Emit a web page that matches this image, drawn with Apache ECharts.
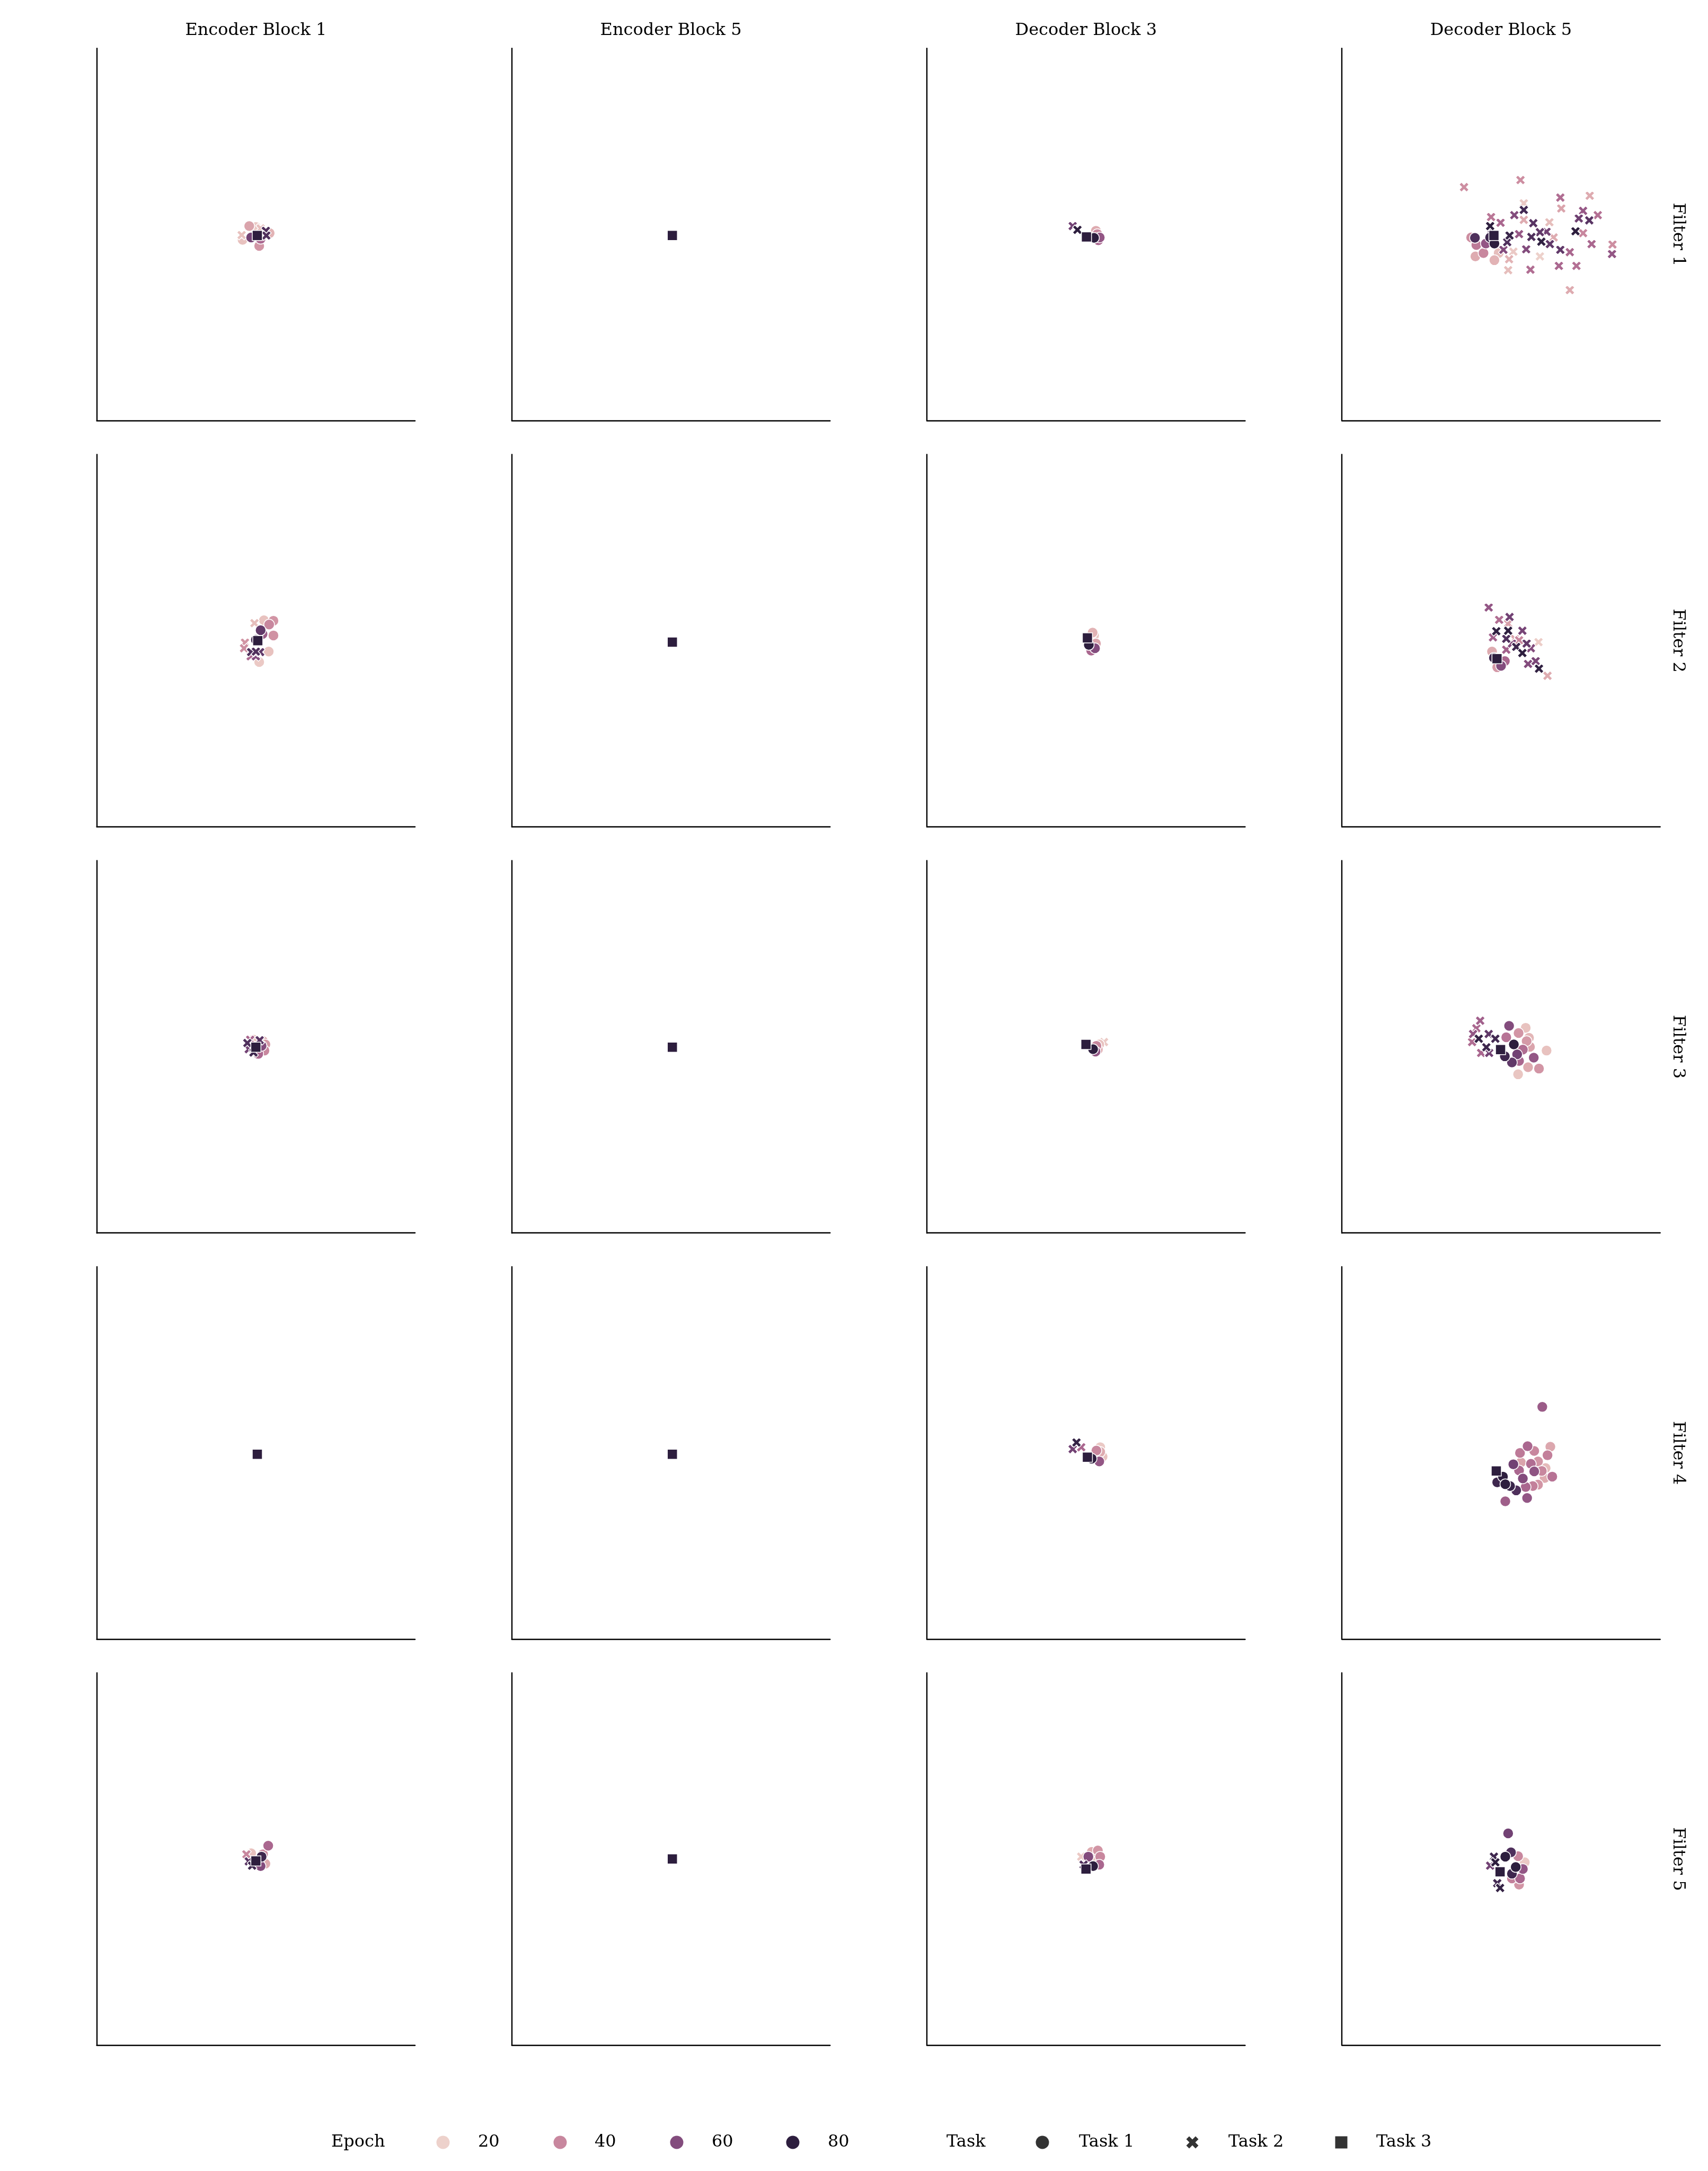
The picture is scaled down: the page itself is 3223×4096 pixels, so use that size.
<!DOCTYPE html>
<html><head><meta charset="utf-8">
<script src="https://cdn.jsdelivr.net/npm/echarts@6/dist/echarts.min.js"></script>
<style>html,body{margin:0;padding:0;background:#fff}#c{width:3223px;height:4096px}</style>
</head><body><div id="c"></div>
<script>
const columns = ['Encoder Block 1', 'Encoder Block 5', 'Decoder Block 3', 'Decoder Block 5'];
const rows = ['Filter 1', 'Filter 2', 'Filter 3', 'Filter 4', 'Filter 5'];
const legendEpochs = [20, 40, 60, 80];
const tasks = ['Task 1', 'Task 2', 'Task 3'];
const epochRange = [20, 80];
const xRange = [-3.355, 3.355];
const yRange = [-3.925, 3.925];

// each point: [x, y, epoch, task]
const enc1_f1 = [[-0.14,0.18,32,1],[-0.28,-0.11,24,1],[0.07,-0.24,36,1],[0.29,0.03,28,1],[0.00,0.16,22,1],[-0.10,-0.06,64,1],[0.10,-0.09,50,1],
  [-0.30,-0.01,24,2],[0.21,0.08,72,2],[0.22,-0.02,72,2],[0.10,0.13,25,2],[0.03,-0.02,80,3]];
const enc1_f2 = [[0.17,0.43,24,1],[0.37,0.42,36,1],[0.28,0.34,40,1],[0.37,0.11,37,1],[0.27,-0.23,24,1],[0.07,-0.45,22,1],[0.10,0.22,68,1],[0.14,0.14,54,1],[0.00,0.02,76,1],
  [-0.03,0.37,25,2],[-0.23,-0.04,36,2],[-0.25,-0.16,38,2],[-0.10,-0.24,72,2],[0.00,-0.23,72,2],[0.09,-0.24,68,2],[-0.11,-0.33,50,2],[0.00,-0.33,60,2],[0.04,0.00,80,3]];
const enc1_f3 = [[0.15,0.12,30,1],[0.18,-0.08,40,1],[0.05,-0.15,50,1],[-0.05,0.15,24,1],[0.12,0.02,60,1],[0.20,0.05,35,1],
  [-0.18,0.08,72,2],[-0.15,-0.05,64,2],[-0.12,0.15,50,2],[-0.05,-0.12,76,2],[0.08,0.14,70,2],[0.00,-0.01,80,3]];
const enc1_f4 = [[0.03,-0.03,80,3]];
const enc1_f5 = [[0.26,0.28,50,1],[0.15,0.10,40,1],[0.20,-0.10,30,1],[0.10,-0.15,60,1],[-0.10,0.12,24,1],[0.12,0.05,76,1],
  [-0.20,0.10,40,2],[-0.15,-0.05,70,2],[-0.08,-0.14,76,2],[0.00,-0.04,80,3]];
const enc5_f1 = [[0.03,-0.02,80,3]];
const enc5_f2 = [[0.03,-0.03,80,3]];
const enc5_f3 = [[0.03,-0.01,80,3]];
const enc5_f4 = [[0.03,-0.03,80,3]];
const enc5_f5 = [[0.03,0.00,80,3]];
const dec3_f1 = [[0.17,-0.07,80,1],[0.24,0.01,40,1],[0.29,-0.06,56,1],[0.26,-0.12,50,1],[0.21,0.08,30,1],
  [-0.18,0.10,80,2],[-0.28,0.18,64,2],[0.01,-0.05,80,3]];
const dec3_f2 = [[0.06,-0.09,80,1],[0.17,0.11,24,1],[0.19,-0.16,60,1],[0.11,-0.21,50,1],[0.21,-0.06,32,1],[0.14,0.17,28,1],[0.03,0.06,80,3]];
const dec3_f3 = [[0.15,-0.05,80,1],[0.22,0.02,40,1],[0.25,-0.06,30,1],[0.20,-0.10,56,1],[0.28,0.05,24,1],[0.38,0.10,22,2],[0.00,0.05,80,3]];
const dec3_f4 = [[0.12,-0.12,80,1],[0.30,0.02,30,1],[0.35,-0.08,24,1],[0.28,-0.18,56,1],[0.22,0.05,40,1],[0.30,0.12,22,1],
  [-0.20,0.22,78,2],[-0.28,0.08,64,2],[-0.10,0.12,50,2],[0.03,-0.09,80,3]];
const dec3_f5 = [[0.12,0.15,30,1],[0.25,0.18,36,1],[0.30,0.05,40,1],[0.22,-0.05,24,1],[0.15,-0.15,80,1],[0.28,-0.12,50,1],[0.05,0.05,60,1],
  [-0.10,0.05,22,2],[-0.05,-0.12,72,2],[0.00,-0.21,80,3]];
const dec5_f1 = [[-0.55,-0.07,72,1],[-0.52,-0.22,44,1],[-0.54,-0.46,30,1],[-0.37,-0.39,40,1],[-0.14,-0.54,28,1],[-0.32,-0.19,56,1],[-0.23,-0.06,76,1],[-0.14,-0.19,80,1],[-0.05,-0.39,25,1],[-0.63,-0.06,38,1],[-0.19,0.01,70,1],
  [-0.78,1.00,38,2],[0.41,1.15,38,2],[1.25,0.78,48,2],[1.87,0.82,30,2],[1.27,0.55,32,2],[0.48,0.66,22,2],[0.48,0.52,75,2],[0.28,0.41,60,2],[0.48,0.31,30,2],[-0.21,0.37,45,2],[-0.01,0.25,50,2],[0.68,0.24,70,2],[1.02,0.26,25,2],[1.73,0.50,55,2],[1.64,0.34,65,2],[1.86,0.30,70,2],[2.04,0.41,47,2],[-0.23,0.18,80,2],[0.18,-0.02,77,2],[0.38,0.01,55,2],[0.64,-0.05,72,2],[0.82,0.05,68,2],[0.96,0.06,64,2],[0.85,-0.15,79,2],[1.03,-0.20,68,2],[1.11,-0.06,30,2],[1.57,0.07,80,2],[1.73,0.03,40,2],[1.91,-0.20,50,2],[2.35,-0.21,38,2],[2.34,-0.41,56,2],[1.25,-0.32,68,2],[1.45,-0.37,50,2],[0.53,-0.31,60,2],[0.05,-0.32,60,2],[0.26,-0.36,22,2],[0.17,-0.52,28,2],[0.82,-0.46,20,2],[0.15,-0.75,25,2],[0.62,-0.74,48,2],[1.22,-0.66,50,2],[1.59,-0.66,47,2],[1.45,-1.17,30,2],[0.13,-0.16,72,2],
  [-0.15,-0.02,80,3]];
const dec5_f2 = [[-0.19,-0.23,30,1],[0.08,-0.43,50,1],[-0.08,-0.56,35,1],[0.00,-0.53,60,1],[-0.15,-0.36,76,1],
  [-0.26,0.70,56,2],[0.18,0.50,64,2],[-0.04,0.44,48,2],[-0.10,0.20,79,2],[0.15,0.21,80,2],[0.45,0.21,63,2],[-0.17,0.07,52,2],[0.11,0.04,72,2],[0.79,-0.03,21,2],[0.32,-0.13,76,2],[0.45,-0.26,80,2],[0.63,-0.16,60,2],[0.11,-0.19,52,2],[0.57,-0.49,60,2],[0.80,-0.59,79,2],[0.98,-0.74,30,2],[0.73,-0.43,62,2],[0.38,0.01,40,2],[0.29,0.04,32,2],[0.15,0.36,33,2],[0.54,-0.06,68,2],[0.23,-0.06,60,2],
  [-0.085,-0.38,80,3]];
const dec5_f3 = [[0.17,0.44,60,1],[0.52,0.40,24,1],[0.37,0.29,36,1],[0.59,0.19,27,1],[0.54,0.12,35,1],[0.27,0.05,80,1],[0.46,-0.06,48,1],[0.69,-0.23,56,1],[0.96,-0.08,24,1],[0.80,-0.46,36,1],[0.57,-0.43,30,1],[0.36,-0.58,23,1],[0.08,-0.20,76,1],[0.23,-0.33,68,1],[0.38,-0.30,50,1],[0.11,0.20,46,1],[0.61,0.00,32,1],[0.34,-0.16,64,1],
  [-0.44,0.55,52,2],[-0.52,0.39,50,2],[-0.47,0.17,78,2],[-0.26,0.27,68,2],[-0.12,0.17,75,2],[-0.31,-0.01,76,2],[-0.25,-0.13,64,2],[-0.59,0.27,56,2],[-0.42,-0.13,50,2],[-0.61,0.10,48,2],
  [-0.01,-0.06,80,3]];
const dec5_f4 = [[0.87,0.97,54,1],[0.56,0.14,50,1],[0.40,0.00,44,1],[0.70,0.04,40,1],[1.04,0.13,31,1],[0.98,-0.05,42,1],[0.26,-0.24,64,1],[0.63,-0.23,48,1],[0.78,-0.18,36,1],[0.70,-0.39,57,1],[0.86,-0.38,40,1],[0.94,-0.32,26,1],[1.08,-0.50,46,1],[0.46,-0.54,60,1],[0.38,-0.37,50,1],[0.04,-0.50,80,1],[-0.08,-0.62,76,1],[0.09,-0.66,80,1],[0.19,-0.70,77,1],[0.32,-0.79,72,1],[0.52,-0.72,50,1],[0.67,-0.70,42,1],[0.78,-0.67,36,1],[0.55,-0.95,56,1],[0.09,-1.02,53,1],[0.92,-0.53,30,1],[0.42,-0.20,32,1],[0.80,-0.30,24,1],
  [-0.10,-0.38,80,3]];
const dec5_f5 = [[0.15,0.54,64,1],[0.21,0.14,72,1],[0.09,0.05,80,1],[0.36,0.06,40,1],[0.31,-0.17,80,1],[0.46,-0.21,56,1],[0.40,-0.41,50,1],[0.38,-0.54,36,1],[0.23,-0.41,42,1],[0.50,-0.07,22,1],[0.23,-0.31,76,1],
  [-0.15,0.05,76,2],[-0.12,-0.07,80,2],[-0.02,-0.61,78,2],[-0.08,-0.51,75,2],[-0.23,-0.14,64,2],
  [-0.02,-0.27,80,3]];

const panelData = [
  [enc1_f1, enc5_f1, dec3_f1, dec5_f1],
  [enc1_f2, enc5_f2, dec3_f2, dec5_f2],
  [enc1_f3, enc5_f3, dec3_f3, dec5_f3],
  [enc1_f4, enc5_f4, dec3_f4, dec5_f4],
  [enc1_f5, enc5_f5, dec3_f5, dec5_f5]
];

// ---- styling ----
function cubehelix(x) {
  const start = 0, rot = 0.4, hue = 0.8;
  const a = hue * x * (1 - x) / 2;
  const phi = 2 * Math.PI * (start / 3 + rot * x);
  const c = Math.cos(phi), s = Math.sin(phi);
  const r = x + a * (-0.14861 * c + 1.78277 * s);
  const g = x + a * (-0.29227 * c - 0.90649 * s);
  const b = x + a * (1.97294 * c);
  const f = v => Math.round(Math.max(0, Math.min(1, v)) * 255);
  return 'rgb(' + f(r) + ',' + f(g) + ',' + f(b) + ')';
}
function epochColor(e) {
  let t = (e - epochRange[0]) / (epochRange[1] - epochRange[0]);
  t = Math.max(0, Math.min(1, t));
  return cubehelix(0.85 - 0.7 * t);
}
const X_PTS = [[0,2.4],[2.4,0],[5,2.6],[7.6,0],[10,2.4],[7.4,5],[10,7.6],[7.6,10],[5,7.4],[2.4,10],[0,7.6],[2.6,5]];
const X_PATH = 'M' + X_PTS.map(p => p[0] + ',' + p[1]).join('L') + 'Z';
const symbolOf = {1: 'circle', 2: 'path://' + X_PATH, 3: 'rect'};
const sizeOf = {1: 20, 2: 18.5, 3: 19};

const FONT = '"DejaVu Serif", serif';
const FS = 32;
const G = {left0: 182.6, dx: 783.2, top0: 91.3, dy: 766.2, w: 600.5, h: 702.5};

const grid = [], xAxis = [], yAxis = [], series = [], graphic = [];
let idx = 0;
for (let r = 0; r < rows.length; r++) {
  for (let c = 0; c < columns.length; c++) {
    grid.push({left: G.left0 + G.dx * c, top: G.top0 + G.dy * r, width: G.w, height: G.h});
    const axisCommon = {
      gridIndex: idx, type: 'value',
      axisLine: {show: true, onZero: false, lineStyle: {color: '#000', width: 2.4}},
      axisTick: {show: false}, axisLabel: {show: false}, splitLine: {show: false}
    };
    xAxis.push(Object.assign({min: xRange[0], max: xRange[1]}, axisCommon));
    yAxis.push(Object.assign({min: yRange[0], max: yRange[1]}, axisCommon));
    const pts = panelData[r][c].slice().sort((p, q) => {
      const tp = p[3] === 3 ? 1 : 0, tq = q[3] === 3 ? 1 : 0;
      if (tp !== tq) return tp - tq;
      if (p[2] !== q[2]) return p[2] - q[2];
      return p[3] - q[3];
    });
    series.push({
      type: 'scatter', xAxisIndex: idx, yAxisIndex: idx, silent: true, animation: false,
      data: pts.map(p => ({
        value: [p[0], p[1], p[2]],
        symbol: symbolOf[p[3]],
        symbolSize: sizeOf[p[3]],
        itemStyle: {color: epochColor(p[2]), borderColor: '#fff', borderWidth: 1.5, opacity: 1}
      }))
    });
    idx++;
  }
}

// column titles
columns.forEach((t, c) => {
  graphic.push({type: 'text', x: G.left0 + G.dx * c + G.w / 2, y: 58, silent: true,
    style: {text: t, font: FS + 'px ' + FONT, fill: '#000', align: 'center', verticalAlign: 'middle'}});
});
// row labels
rows.forEach((t, r) => {
  graphic.push({type: 'text', x: 3166, y: G.top0 + G.dy * r + G.h / 2, rotation: -Math.PI / 2, silent: true,
    style: {text: t, font: FS + 'px ' + FONT, fill: '#000', align: 'center', verticalAlign: 'middle'}});
});

// legend
const LY = 4042;
function legText(t, x) {
  graphic.push({type: 'text', x: x, y: LY, silent: true,
    style: {text: t, font: FS + 'px ' + FONT, fill: '#000', align: 'left', verticalAlign: 'middle'}});
}
legText('Epoch', 625);
const epochMarkX = [836, 1057, 1277, 1496];
const epochTextX = [902, 1122, 1343, 1562];
legendEpochs.forEach((e, i) => {
  graphic.push({type: 'circle', silent: true, shape: {cx: epochMarkX[i], cy: LY, r: 12.5}, style: {fill: epochColor(e)}});
  legText(String(e), epochTextX[i]);
});
legText('Task', 1786);
const taskMarkX = [1967, 2250, 2531];
const taskTextX = [2036, 2318, 2597];
tasks.forEach((t, i) => {
  const cx = taskMarkX[i];
  if (i === 0) {
    graphic.push({type: 'circle', silent: true, shape: {cx: cx, cy: LY, r: 12.5}, style: {fill: '#333'}});
  } else if (i === 1) {
    const s = 23;
    graphic.push({type: 'polygon', silent: true,
      shape: {points: X_PTS.map(p => [cx - s / 2 + p[0] * s / 10, LY - s / 2 + p[1] * s / 10])},
      style: {fill: '#333'}});
  } else {
    graphic.push({type: 'rect', silent: true, shape: {x: cx - 11.5, y: LY - 11.5, width: 23, height: 23}, style: {fill: '#333'}});
  }
  legText(t, taskTextX[i]);
});

const chart = echarts.init(document.getElementById('c'), null, {renderer: 'canvas', width: 3223, height: 4096});
chart.setOption({backgroundColor: '#fff', animation: false, grid, xAxis, yAxis, series, graphic});
</script></body></html>
